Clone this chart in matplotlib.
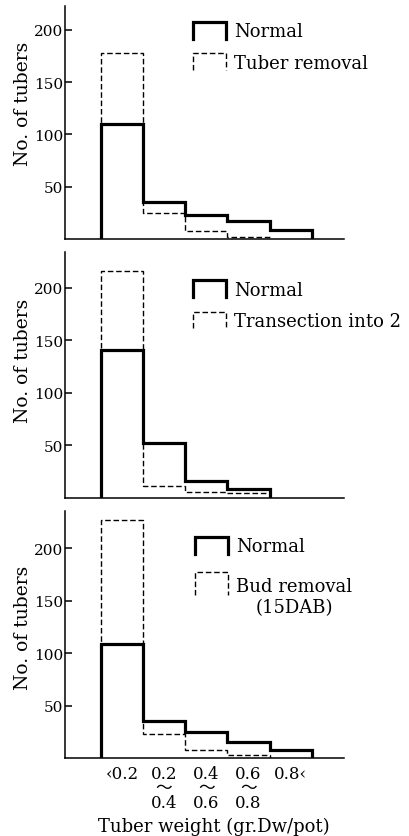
import matplotlib
matplotlib.use("Agg")
import matplotlib.pyplot as plt
import numpy as np
from matplotlib.legend_handler import HandlerBase
from matplotlib.lines import Line2D

# weight classes (gr. Dw/pot)
class_labels = ["\u20390.2", "0.2\n\u301c\n0.4", "0.4\n\u301c\n0.6", "0.6\n\u301c\n0.8", "0.8\u2039"]

# counts of tubers per weight class
normal_1 = [110, 35, 23, 17, 9]
tuber_removal = [178, 25, 8, 1.5, 0]

normal_2 = [141, 52, 16, 8.5, 0]
transection = [216, 11, 6, 4.5, 0]

normal_3 = [109, 35, 24.5, 15, 8]
bud_removal = [227, 23, 8, 3, 0]

panels = [
    (normal_1, tuber_removal, "Tuber removal", 223),
    (normal_2, transection, "Transection into 2", 234),
    (normal_3, bud_removal, "Bud removal\n(15DAB)", 236),
]

SERIF = ["DejaVu Serif", "Noto Sans CJK JP"]
plt.rcParams["font.family"] = SERIF

solid_style = dict(color="black", lw=2.3)
dash_style = dict(color="black", lw=1.0, ls=(0, (4, 2)))


class BracketHandler(HandlerBase):
    """Legend key drawn as an open box (top and both sides), like the original."""

    def __init__(self, lift=0.0, grow=0.0):
        super().__init__()
        self.lift = lift
        self.grow = grow

    def create_artists(self, legend, orig_handle, xdescent, ydescent,
                       width, height, fontsize, trans):
        x0 = -xdescent
        y0 = -ydescent + (self.lift - self.grow) * fontsize
        top = -ydescent + height + self.lift * fontsize
        line = Line2D([x0, x0, x0 + width, x0 + width], [y0, top, top, y0])
        self.update_prop(line, orig_handle, legend)
        line.set_solid_joinstyle("miter")
        line.set_transform(trans)
        return [line]


def stairs_trimmed(ax, values, edges, **kw):
    # the original stops each outline at the last non-empty class
    vals = np.asarray(values, dtype=float)
    n = int(np.flatnonzero(vals > 0)[-1]) + 1
    return ax.stairs(vals[:n], edges[:n + 1], baseline=0, fill=False, **kw)


fig = plt.figure(figsize=(4.1, 8.37), dpi=100)
# axes boxes in figure fractions: (left, bottom, width, height)
boxes = [
    (0.1585, 0.7133, 0.680, 0.2784),
    (0.1585, 0.4038, 0.680, 0.2939),
    (0.1585, 0.0932, 0.680, 0.2955),
]
leg_anchor = [(0.459, 0.932), (0.459, 0.886), (0.466, 0.894)]
leg_spacing = [0.72, 0.72, 1.2]
ylab_y = [0.584, 0.56, 0.53]

edges = np.arange(len(class_labels) + 1)
centers = edges[:-1] + 0.5

for i, ((normal, treat, treat_label, ymax), box) in enumerate(zip(panels, boxes)):
    ax = fig.add_axes(box)
    stairs_trimmed(ax, treat, edges, **dash_style)
    stairs_trimmed(ax, normal, edges, joinstyle="miter", **solid_style)

    ax.set_xlim(-0.85, 5.76)
    ax.set_ylim(0, ymax)
    ax.set_yticks([50, 100, 150, 200])
    ax.tick_params(axis="y", direction="in", length=5, width=1.1, pad=1.5, labelsize=11)
    for side in ("top", "right"):
        ax.spines[side].set_visible(False)
    for side in ("left", "bottom"):
        ax.spines[side].set_linewidth(1.1)

    ax.set_ylabel("No. of tubers", fontsize=13.5)
    ax.yaxis.set_label_coords(-0.118, ylab_y[i])

    if i == 2:
        ax.set_xticks(centers, class_labels)
        ax.tick_params(axis="x", length=0, pad=5, labelsize=12)
        for t in ax.get_xticklabels():
            t.set_linespacing(0.8)
        ax.set_xlabel("Tuber weight (gr.Dw/pot)", fontsize=13, x=0.534, labelpad=4)
    else:
        ax.set_xticks([])

    h_norm = Line2D([], [], **solid_style)
    h_treat = Line2D([], [], **dash_style)
    two_line = "\n" in treat_label
    treat_handler = BracketHandler(lift=0.95, grow=0.35) if two_line else BracketHandler()
    leg = ax.legend([h_norm, h_treat], ["Normal", treat_label],
                    handler_map={h_norm: BracketHandler(), h_treat: treat_handler},
                    loc="upper left", bbox_to_anchor=leg_anchor[i], frameon=False,
                    fontsize=13, borderpad=0, borderaxespad=0,
                    handlelength=1.83, handleheight=1.05, handletextpad=0.45,
                    labelspacing=leg_spacing[i])
    for t in leg.get_texts():
        t.set_multialignment("center")

fig.savefig("out.png", dpi=100)
